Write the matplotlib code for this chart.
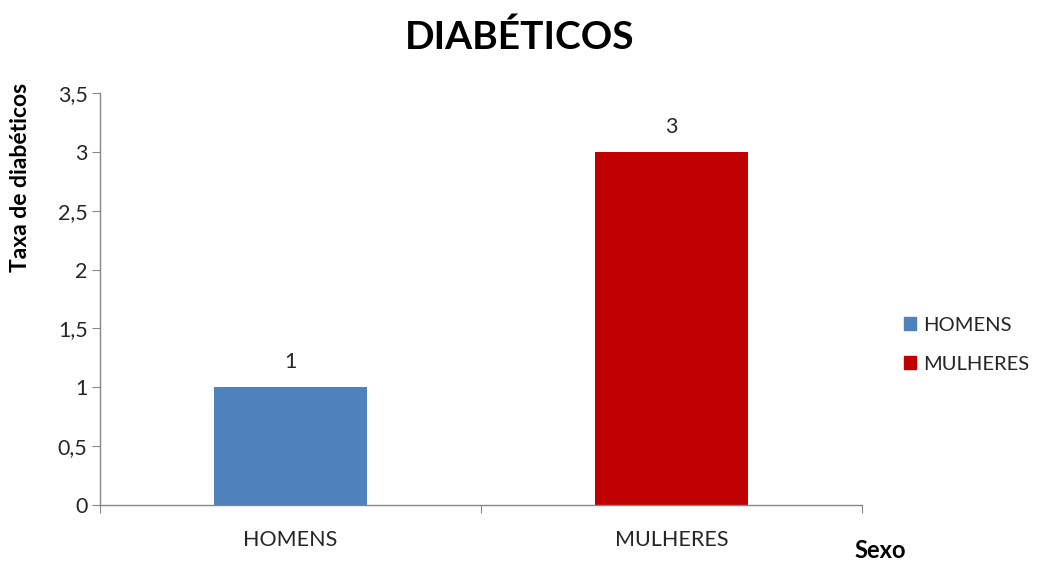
import matplotlib.pyplot as plt
from matplotlib.ticker import FixedLocator, FuncFormatter
from matplotlib.patches import Patch

# data
categories = ["HOMENS", "MULHERES"]
values = [1, 3]
colors = ["#4F81BD", "#C00000"]
yticks = [0, 0.5, 1, 1.5, 2, 2.5, 3, 3.5]

plt.rcParams["font.family"] = ["Lato", "DejaVu Sans"]

fig = plt.figure(figsize=(10.4, 5.72), dpi=100)
ax = fig.add_axes([0.0962, 0.1171, 0.7327, 0.7203])

pos = list(range(len(categories)))
bars = ax.bar(pos, values, width=0.40, color=colors, zorder=2)

# value labels above the bars
for b, v in zip(bars, values):
    ax.annotate(f"{v}", (b.get_x() + b.get_width() / 2, v),
                xytext=(0, 11), textcoords="offset points",
                ha="center", va="bottom", fontsize=15.5, color="#262626")

ax.set_xlim(-0.5, len(categories) - 0.5)
ax.set_ylim(0, 3.5)

# y axis with comma decimals
ax.yaxis.set_major_locator(FixedLocator(yticks))
ax.yaxis.set_major_formatter(
    FuncFormatter(lambda v, _: f"{v:g}".replace(".", ",")))

# category labels centred, tick marks on the slot boundaries
ax.set_xticks([p - 0.5 for p in pos] + [len(categories) - 0.5])
ax.set_xticklabels([])
ax.set_xticks(pos, minor=True)
ax.set_xticklabels(categories, minor=True)
ax.tick_params(axis="x", which="minor", length=0, pad=18,
               labelsize=15.5, labelcolor="#262626")
ax.tick_params(axis="x", which="major", length=6, color="#868686",
               direction="out")
ax.tick_params(axis="y", length=6, color="#868686", direction="out",
               labelsize=15.5, labelcolor="#262626", pad=3)

for side in ["top", "right"]:
    ax.spines[side].set_visible(False)
for side in ["left", "bottom"]:
    ax.spines[side].set_color("#868686")
    ax.spines[side].set_linewidth(1.0)

fig.text(0.5, 0.935, "DIABÉTICOS", ha="center", va="center",
         fontsize=28, fontweight="bold", color="black")
fig.text(0.02, 0.69, "Taxa de diabéticos", rotation=90, ha="center",
         va="center", fontsize=16.5, fontweight="bold")
fig.text(0.822, 0.018, "Sexo", ha="left", va="bottom",
         fontsize=17, fontweight="bold")

handles = [Patch(color=c, label=l) for c, l in zip(colors, categories)]
fig.legend(handles=handles, loc="center left",
           bbox_to_anchor=(0.869, 0.397), frameon=False,
           borderpad=0, borderaxespad=0,
           fontsize=14.5, handlelength=0.6, handleheight=0.6,
           handletextpad=0.35, labelspacing=1.1, labelcolor="#262626")

fig.savefig("out.png", dpi=100)
